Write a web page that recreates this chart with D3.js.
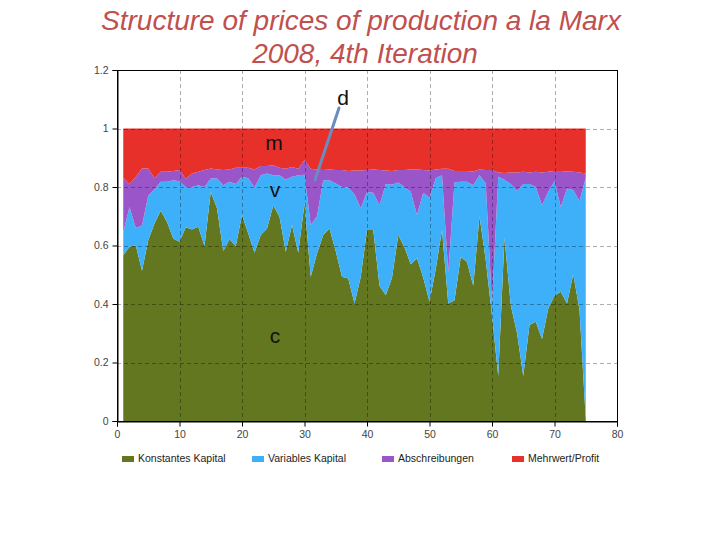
<!DOCTYPE html>
<html>
<head>
<meta charset="utf-8">
<script src="https://cdn.jsdelivr.net/npm/d3@7"></script>
<style>
  html, body { margin: 0; padding: 0; background: #fff; }
  svg { display: block; }
</style>
</head>
<body>
<svg id="chart" width="720" height="540"></svg>
<script>
// ---- data ----
const titleLines = ["Structure of prices of production a la Marx", "2008, 4th Iteration"];
const seriesNames = ["Konstantes Kapital", "Variables Kapital", "Abschreibungen", "Mehrwert/Profit"];
const seriesColors = ["#62771f", "#3eb0fa", "#9a55c8", "#e8302a"];
const xValues = d3.range(1, 76);
const konstantes = [
  .567,.596,.601,.514,.618,.675,.719,.680,.624,.613,
  .662,.655,.664,.598,.784,.727,.581,.621,.598,.704,
  .641,.575,.636,.658,.737,.698,.579,.670,.575,.744,
  .493,.573,.636,.658,.580,.493,.487,.402,.493,.653,
  .653,.462,.430,.490,.636,.593,.536,.556,.490,.408,
  .520,.653,.402,.413,.561,.544,.462,.700,.550,.360,
  .154,.627,.396,.302,.154,.328,.339,.280,.385,.428,
  .442,.402,.502,.380,.005];
const variables = [
  .078,.136,.059,.154,.152,.117,.099,.138,.199,.207,
  .138,.145,.142,.202,.045,.102,.225,.197,.212,.131,
  .189,.223,.204,.188,.103,.142,.247,.165,.265,.098,
  .177,.127,.187,.165,.232,.307,.311,.373,.234,.130,
  .127,.276,.380,.318,.179,.207,.248,.148,.290,.355,
  .310,.187,.106,.402,.257,.274,.344,.140,.262,.040,
  .681,.198,.414,.485,.656,.482,.461,.458,.399,.392,
  .290,.393,.288,.372,.827];
const abschreibungen = [
  .187,.078,.174,.195,.093,.038,.034,.034,.032,.038,
  .028,.046,.046,.058,.034,.031,.052,.042,.056,.031,
  .036,.062,.032,.026,.034,.026,.036,.033,.022,.050,
  .192,.160,.035,.037,.046,.058,.057,.081,.129,.075,
  .080,.120,.046,.047,.043,.058,.076,.156,.078,.093,
  .030,.022,.354,.040,.037,.037,.047,.020,.046,.458,
  .015,.023,.040,.063,.042,.040,.052,.112,.068,.035,
  .123,.058,.062,.098,.014];
const mehrwert = [
  .168,.190,.166,.137,.137,.170,.148,.148,.145,.142,
  .172,.154,.148,.142,.137,.140,.142,.140,.134,.134,
  .134,.140,.128,.128,.126,.134,.138,.132,.138,.108,
  .138,.140,.142,.140,.142,.142,.145,.144,.144,.142,
  .140,.142,.144,.145,.142,.142,.140,.140,.142,.144,
  .140,.138,.138,.145,.145,.145,.147,.140,.142,.142,
  .150,.152,.150,.150,.148,.150,.148,.150,.148,.145,
  .145,.147,.148,.150,.154];
const xTicks = [0, 10, 20, 30, 40, 50, 60, 70, 80];
const yTicks = [0, 0.2, 0.4, 0.6, 0.8, 1, 1.2];
const yTickLabels = ["0", "0.2", "0.4", "0.6", "0.8", "1", "1.2"];
const layerLabels = [
  {text: "m", x: 2, y: 0.92},
  {text: "v", x: 2, y: 0.8},
  {text: "c", x: 2, y: 0.3},
  {text: "d", x: 2, y: 1.08}
];

// ---- table for the stack ----
const seriesArrays = [konstantes, variables, abschreibungen, mehrwert];
const table = xValues.map((x, i) => {
  const row = {x};
  seriesNames.forEach((k, j) => row[k] = seriesArrays[j][i]);
  return row;
});

const svg = d3.select("#chart");
const L = 117, R = 617, T = 70, B = 421;
const x = d3.scaleLinear().domain([0, 80]).range([L, R]);
const y = d3.scaleLinear().domain([0, 1.2]).range([B, T]);

// title
svg.append("g").selectAll("text").data(titleLines).join("text")
  .attr("x", (d, i) => i === 0 ? 361 : 365)
  .attr("y", (d, i) => i === 0 ? 30 : 63)
  .attr("text-anchor", "middle")
  .attr("font-family", "Liberation Sans, Arial, sans-serif")
  .attr("font-style", "italic")
  .attr("font-size", 28)
  .attr("fill", "#c0504d")
  .text(d => d);

// stacked areas
const stack = d3.stack().keys(seriesNames);
const layers = stack(table);
const area = d3.area()
  .x(d => x(d.data.x))
  .y0(d => y(d[0]))
  .y1(d => y(d[1]));
svg.append("g").selectAll("path").data(layers).join("path")
  .attr("d", area)
  .attr("fill", (d, i) => seriesColors[i]);

// grid lines (drawn over the areas)
const grid = svg.append("g")
  .attr("stroke", "#000").attr("stroke-opacity", 0.32)
  .attr("stroke-dasharray", "4,3").attr("stroke-width", 1);
grid.selectAll("line.h").data(yTicks.filter(t => t > 0 && t < 1.2)).join("line")
  .attr("x1", L).attr("x2", R)
  .attr("y1", d => Math.round(y(d)) + 0.5).attr("y2", d => Math.round(y(d)) + 0.5);
grid.selectAll("line.v").data(xTicks.filter(t => t > 0 && t < 80)).join("line")
  .attr("y1", T).attr("y2", B)
  .attr("x1", d => Math.round(x(d)) + 0.5).attr("x2", d => Math.round(x(d)) + 0.5);

// frame
svg.append("rect")
  .attr("x", L + 0.5).attr("y", T + 0.5)
  .attr("width", R - L).attr("height", B - T)
  .attr("fill", "none").attr("stroke", "#000").attr("stroke-width", 1);

// axes
const yAxis = d3.axisLeft(y).tickValues(yTicks)
  .tickFormat((d, i) => yTickLabels[i]).tickSize(5).tickPadding(4);
const gy = svg.append("g").attr("transform", `translate(${L + 0.5},0)`).call(yAxis);
const xAxis = d3.axisBottom(x).tickValues(xTicks).tickSize(5).tickPadding(4);
const gx = svg.append("g").attr("transform", `translate(0,${B + 0.5})`).call(xAxis);
[gy, gx].forEach(g => {
  g.select(".domain").attr("stroke", "#000");
  g.selectAll(".tick line").attr("stroke", "#000");
  g.selectAll(".tick text")
    .attr("font-family", "Liberation Sans, Arial, sans-serif")
    .attr("font-size", 10.5).attr("fill", "#444");
});

// pointer line for "d"
svg.append("line")
  .attr("x1", 339).attr("y1", 108).attr("x2", 315).attr("y2", 180)
  .attr("stroke", "#6b8cbc").attr("stroke-width", 3).attr("stroke-linecap", "round");

// layer labels
const labelPos = [
  {px: 274, py: 150}, {px: 275, py: 197}, {px: 275, py: 343}, {px: 343, py: 105}
];
svg.append("g").selectAll("text").data(layerLabels).join("text")
  .attr("x", (d, i) => labelPos[i].px)
  .attr("y", (d, i) => labelPos[i].py)
  .attr("text-anchor", "middle")
  .attr("font-family", "Liberation Sans, Arial, sans-serif")
  .attr("font-size", 21)
  .attr("fill", "#111")
  .text(d => d.text);

// legend
const lg = svg.append("g").selectAll("g").data(seriesNames).join("g")
  .attr("transform", (d, i) => `translate(${122 + i * 130},0)`);
lg.append("rect").attr("x", 0).attr("y", 456).attr("width", 12).attr("height", 6)
  .attr("fill", (d, i) => seriesColors[i]);
lg.append("text").attr("x", 16).attr("y", 462)
  .attr("font-family", "Liberation Sans, Arial, sans-serif")
  .attr("font-size", 10.5).attr("fill", "#222")
  .text(d => d);
</script>
</body>
</html>
